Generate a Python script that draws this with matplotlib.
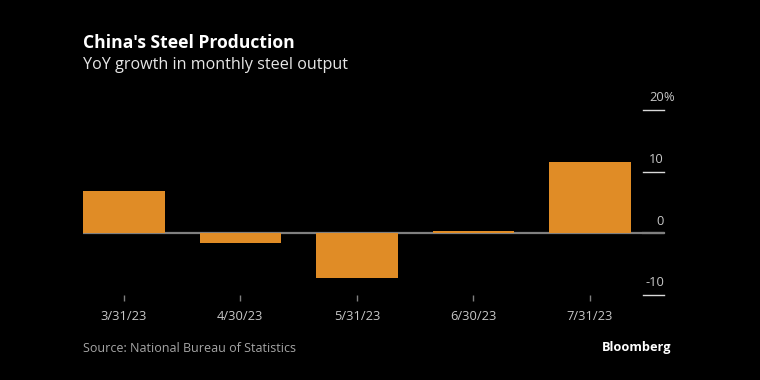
import matplotlib
matplotlib.use("Agg")
import matplotlib.pyplot as plt
import matplotlib.transforms as mtransforms

categories = ["3/31/23", "4/30/23", "5/31/23", "6/30/23", "7/31/23"]
yoy_growth = [6.9, -1.5, -7.3, 0.4, 11.5]
y_ticks = [20, 10, 0, -10]
y_tick_labels = ["20", "10", "0", "-10"]

BG = "#000000"
BAR = "#E08C26"
GRID = "#7f7f7f"
TXT = "#c8c8c8"

plt.rcParams['font.family'] = ['Open Sans', 'DejaVu Sans']

fig = plt.figure(figsize=(7.6, 3.8), dpi=100, facecolor=BG)
ax = fig.add_axes([0.1092, 0.2237, 0.7645, 0.4868], facecolor=BG)

x = list(range(len(categories)))
ax.bar(x, yoy_growth, width=0.70, color=BAR, zorder=3)
ax.axhline(0, color=GRID, lw=1.6, zorder=2)

ax.set_xlim(-0.35, 4.635)
ax.set_ylim(-10, 20)

for s in ax.spines.values():
    s.set_visible(False)

ax.set_xticks(x)
ax.set_xticklabels(categories, color=TXT, fontsize=9.3)
ax.tick_params(axis='x', colors=GRID, length=4, width=1, pad=7, labelcolor=TXT)
ax.set_yticks([])

trans = mtransforms.blended_transform_factory(ax.transAxes, ax.transData)
off = mtransforms.ScaledTranslation(0, 4/72, fig.dpi_scale_trans)
off_pct = mtransforms.ScaledTranslation(-0.6/72, 4/72, fig.dpi_scale_trans)
for v, lab in zip(y_ticks, y_tick_labels):
    if v != 0:
        ax.axhline(v, xmin=0.964, xmax=1.0, color="#d9d9d9", lw=1.0, zorder=2, clip_on=False)
    else:
        ax.axhline(v, xmin=0.964, xmax=1.0, color=GRID, lw=1.6, zorder=2, clip_on=False)
    ax.text(1.0, v, lab, transform=trans + off, ha='right', va='bottom',
            color=TXT, fontsize=9.3)
    if v == max(y_ticks):
        ax.text(1.0, v, "%", transform=trans + off_pct,
                ha='left', va='bottom', color=TXT, fontsize=9.3)

fig.text(83/760, 1 - 43/380, "China's Steel Production", color="white",
         fontsize=12.6, fontweight='bold', va='center', ha='left')
fig.text(83/760, 1 - 65/380, "YoY growth in monthly steel output", color="#e6e6e6",
         fontsize=11.6, va='center', ha='left')
fig.text(83/760, 1 - 348/380, "Source: National Bureau of Statistics", color="#a6a6a6",
         fontsize=9.0, va='center', ha='left')
fig.text(671/760, 1 - 347/380, "Bloomberg", color="white",
         fontsize=9.2, fontweight='bold', va='center', ha='right')

fig.savefig("out.png", dpi=100, facecolor=BG)
